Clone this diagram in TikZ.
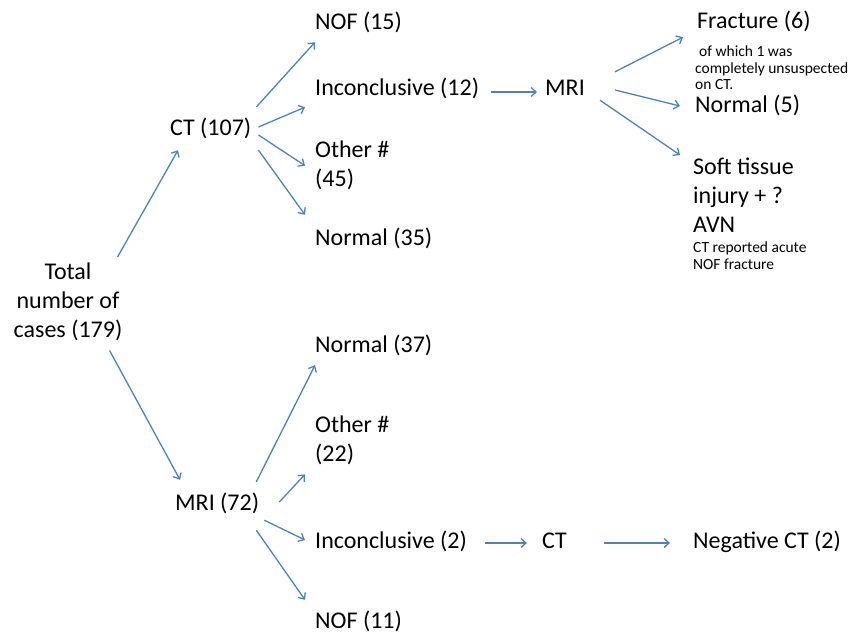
\documentclass[tikz,border=0pt]{standalone}
\usepackage{fontspec}
\setmainfont{Carlito}
\usetikzlibrary{arrows.meta}
\definecolor{arrowblue}{RGB}{79,129,189}
\tikzset{
  arr/.style={draw=arrowblue, line width=1.3pt, -{Straight Barb[length=5pt,width=9pt]}},
  lbl/.style={anchor=base west, inner sep=0pt, font=\fontsize{24}{29}\selectfont, text height=17pt, text depth=5pt},
  multi/.style={anchor=north west, inner sep=0pt, align=left, font=\fontsize{24}{29}\selectfont},
  note/.style={anchor=north west, inner sep=0pt, align=left, font=\fontsize{15.5}{16.5}\selectfont},
}
\begin{document}
\begin{tikzpicture}[x=1pt,y=-1pt]
  \useasboundingbox (0,0) rectangle (857,637);
  % root
  \node[multi, anchor=north, align=center] (total) at (68,263) {Total\\number of\\cases (179)};
  % CT branch
  \node[lbl] (ct) at (170,135) {CT (107)};
  \node[lbl] (nof15) at (315,29) {NOF (15)};
  \node[lbl] (inc12) at (315,95) {Inconclusive (12)};
  \node[multi] (oth45) at (315,141) {Other \#\\(45)};
  \node[lbl] (norm35) at (315,245) {Normal (35)};
  \node[lbl] (mriA) at (545,95) {MRI};
  \node[lbl] (frac) at (697,28) {Fracture (6)};
  \node[note] (fracnote) at (695,46) {\hspace{4pt}of which 1 was\\completely unsuspected\\on CT.};
  \node[lbl] (norm5) at (695,112) {Normal (5)};
  \node[multi] (soft) at (693,158) {Soft tissue\\injury + ?\\AVN};
  \node[note] (softnote) at (693,242) {CT reported acute\\NOF fracture};
  % MRI branch
  \node[lbl] (mriB) at (175,510) {MRI (72)};
  \node[lbl] (norm37) at (315,352) {Normal (37)};
  \node[multi] (oth22) at (315,416) {Other \#\\(22)};
  \node[lbl] (inc2) at (315,548) {Inconclusive (2)};
  \node[lbl] (nof11) at (315,628) {NOF (11)};
  \node[lbl] (ctB) at (542,548) {CT};
  \node[lbl] (neg) at (693,548) {Negative CT (2)};

  \draw[arr] ([xshift=-5pt,yshift=6pt]total.north east) -- ([xshift=8pt,yshift=-10pt]ct.south west);
  \draw[arr] ([xshift=-13pt,yshift=-9pt]total.south east) -- ([xshift=5pt,yshift=13pt]mriB.north west);

  \draw[arr] ([xshift=5pt,yshift=11pt]ct.north east) -- ([yshift=-8pt]nof15.south west);
  \draw[arr] ([xshift=7pt,yshift=2pt]ct.east) -- ([xshift=-10pt,yshift=-7pt]inc12.south west);
  \draw[arr] ([xshift=7pt,yshift=-6pt]ct.east) -- ([xshift=-10pt]oth45.west);
  \draw[arr] ([xshift=7pt,yshift=-10pt]ct.south east) -- ([xshift=-10pt,yshift=13pt]norm35.north west);
  \draw[arr] ([xshift=12pt,yshift=-3pt]inc12.east) -- ([xshift=-8pt,yshift=-3pt]mriA.west);
  \draw[arr] ([xshift=30pt,yshift=6pt]mriA.north east) -- ([xshift=-14pt,yshift=-4pt]frac.south west);
  \draw[arr] ([xshift=30pt,yshift=-1pt]mriA.east) -- ([xshift=-15pt]norm5.west);
  \draw[arr] ([xshift=15pt]mriA.south east) -- ([xshift=-13pt,yshift=3pt]soft.north west);

  \draw[arr] ([xshift=-3pt,yshift=11pt]mriB.north east) -- ([yshift=-8pt]norm37.south west);
  \draw[arr] ([xshift=20pt,yshift=2pt]mriB.east) -- ([xshift=-10pt,yshift=-9pt]oth22.south west);
  \draw[arr] ([xshift=5pt,yshift=-5pt]mriB.south east) -- ([xshift=-10pt,yshift=2pt]inc2.west);
  \draw[arr] ([xshift=-3pt,yshift=-15pt]mriB.south east) -- ([xshift=-10pt,yshift=11pt]nof11.north west);
  \draw[arr] ([xshift=18pt,yshift=-1pt]inc2.east) -- ([xshift=-15pt,yshift=-1pt]ctB.west);
  \draw[arr] ([xshift=37pt,yshift=-1pt]ctB.east) -- ([xshift=-23pt,yshift=-1pt]neg.west);
\end{tikzpicture}
\end{document}
